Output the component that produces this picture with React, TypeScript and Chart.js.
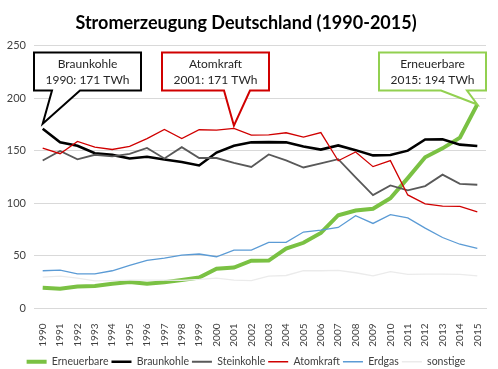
import React, { useEffect, useRef } from "react";
import { Chart, registerables } from "chart.js";

Chart.register(...registerables);

const years = ["1990","1991","1992","1993","1994","1995","1996","1997","1998","1999","2000","2001","2002","2003","2004","2005","2006","2007","2008","2009","2010","2011","2012","2013","2014","2015"];
const erneuerbare = [19.7,18.9,20.9,21.5,23.5,25.1,23.6,24.9,27.2,29.5,37.9,38.9,45.5,45.6,56.9,62.5,71.8,88.7,93.2,94.9,104.8,124.0,143.8,152.3,162.5,194.1];
const braunkohle = [171.0,158.0,154.7,147.6,146.1,142.6,144.3,141.7,139.4,136.0,148.3,154.8,158.0,158.2,158.0,154.1,151.1,155.1,150.6,145.6,145.9,150.1,160.7,160.9,155.8,154.5];
const steinkohle = [140.8,149.8,141.9,146.2,144.6,147.1,152.7,142.6,153.4,143.1,143.1,138.4,134.6,146.5,140.8,134.1,137.9,142.0,124.6,107.9,117.0,112.4,116.4,127.3,118.6,117.7];
const atomkraft = [152.5,147.2,158.8,153.5,151.2,154.1,161.6,170.3,161.7,170.0,169.6,171.3,164.8,165.1,167.1,163.0,167.3,140.5,148.8,134.9,140.6,108.0,99.5,97.3,97.1,91.8];
const erdgas = [35.9,36.5,32.9,32.9,35.9,41.1,45.8,48.0,50.8,51.8,49.2,55.5,55.6,62.9,62.9,72.7,74.5,77.1,88.3,80.9,89.3,86.1,76.4,67.5,61.1,57.2];
const sonstige = [29.8,30.8,28.8,26.3,26.6,27.0,27.0,27.0,26.8,27.6,28.8,27.0,26.6,30.8,31.4,35.9,35.9,36.2,34.0,31.1,35.0,32.4,32.7,32.7,32.4,31.0];

const seriesNames = ["Erneuerbare","Braunkohle","Steinkohle","Atomkraft","Erdgas","sonstige"];
const callouts = [
  { series: 1, year: "1990", value: 171, title: "Braunkohle", label: "1990: 171 TWh" },
  { series: 3, year: "2001", value: 171, title: "Atomkraft", label: "2001: 171 TWh" },
  { series: 0, year: "2015", value: 194, title: "Erneuerbare", label: "2015: 194 TWh" },
];

const FONT = "Lato, 'Open Sans', sans-serif";

const calloutPlugin = {
  id: "callouts",
  afterDatasetsDraw(chart: any) {
    const { ctx, chartArea, scales } = chart;
    const x = scales.x;
    const y = scales.y;
    const boxTop = chartArea.top + 7;
    const boxH = 38;
    const boxW = 107;
    const specs = [
      { left: chartArea.left, color: "#000000", baseL: 18, baseR: 46, dy: -5 },
      { left: chartArea.left + 128, color: "#D00000", baseL: 62, baseR: 88, dy: -3 },
      { left: chartArea.right - boxW, color: "#92D050", baseL: 62, baseR: 88, dy: 0 },
    ];
    callouts.forEach((c, i) => {
      const s = specs[i];
      const tipX = x.getPixelForValue(years.indexOf(c.year));
      const tipY = y.getPixelForValue(c.value) + s.dy;
      const l = s.left, t = boxTop, r = s.left + boxW, b = boxTop + boxH;
      ctx.save();
      ctx.beginPath();
      ctx.moveTo(l, t);
      ctx.lineTo(r, t);
      ctx.lineTo(r, b);
      ctx.lineTo(l + s.baseR, b);
      ctx.lineTo(tipX, tipY);
      ctx.lineTo(l + s.baseL, b);
      ctx.lineTo(l, b);
      ctx.closePath();
      ctx.fillStyle = "#ffffff";
      ctx.fill();
      ctx.lineWidth = 2;
      ctx.strokeStyle = s.color;
      ctx.lineJoin = "miter";
      ctx.stroke();
      ctx.fillStyle = "#262626";
      ctx.font = "12px " + FONT;
      ctx.textAlign = "center";
      ctx.textBaseline = "middle";
      const cx = (l + r) / 2;
      ctx.fillText(c.title, cx, t + 12);
      ctx.fillText(c.label, cx, t + 28);
      ctx.restore();
    });
  },
};

export default function App() {
  const ref = useRef<HTMLCanvasElement>(null);
  useEffect(() => {
    document.body.style.margin = "0";
    const data = [erneuerbare, braunkohle, steinkohle, atomkraft, erdgas, sonstige];
    const colors = ["#7AC143", "#000000", "#595959", "#D00000", "#5B9BD5", "#EBEBEB"];
    const widths = [4, 2.6, 1.8, 1.3, 1.3, 1.3];
    const chart = new Chart(ref.current!, {
      type: "line",
      data: {
        labels: years,
        datasets: data.map((d, i) => ({
          label: seriesNames[i],
          data: d,
          borderColor: colors[i],
          backgroundColor: colors[i],
          borderWidth: widths[i],
          pointRadius: 0,
          tension: 0,
          order: 6 - i,
        })),
      },
      options: {
        animation: false,
        responsive: true,
        maintainAspectRatio: false,
        layout: { padding: { left: 6, right: 12, top: 0, bottom: -8 } },
        plugins: {
          title: {
            display: true,
            text: "Stromerzeugung Deutschland (1990-2015)",
            color: "#000000",
            font: { family: FONT, size: 18, weight: "bold" },
            padding: { top: 12, bottom: 12 },
          },
          legend: {
            position: "bottom",
            labels: {
              usePointStyle: true,
              pointStyle: "line",
              pointStyleWidth: 20,
              color: "#404040",
              font: { family: FONT, size: 10.5 },
              padding: 3,
              boxHeight: 10,
              sort: (a: any, b: any) => a.datasetIndex - b.datasetIndex,
            },
          },
          tooltip: { enabled: false },
        },
        scales: {
          x: {
            offset: true,
            grid: { display: false },
            border: { display: true, color: "#D9D9D9" },
            ticks: {
              minRotation: 90,
              maxRotation: 90,
              autoSkip: false,
              color: "#404040",
              font: { family: FONT, size: 10 },
              padding: 7,
            },
            afterFit(scale: any) { scale.height = 45; },
          },
          y: {
            min: 0,
            max: 250,
            ticks: { stepSize: 50, color: "#404040", font: { family: FONT, size: 11 }, padding: 8 },
            grid: { color: "#D9D9D9", drawTicks: false },
            border: { display: false },
            afterFit(scale: any) { scale.width = 28; },
          },
        },
      },
      plugins: [calloutPlugin],
    });
    return () => chart.destroy();
  }, []);
  return (
    <div style={{ position: "absolute", left: 0, top: 0, width: 498, height: 369 }}>
      <canvas ref={ref} />
    </div>
  );
}
